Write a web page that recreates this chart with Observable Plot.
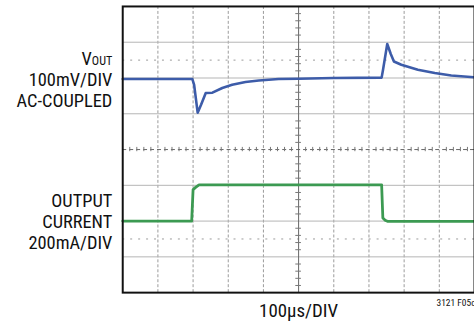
<!DOCTYPE html>
<html><head><meta charset="utf-8">
<script src="https://cdn.jsdelivr.net/npm/d3@7"></script>
<script src="https://cdn.jsdelivr.net/npm/@observablehq/plot@0.6"></script>
<style>
html,body{margin:0;padding:0;background:#fff;overflow:hidden;width:474px;height:326px}
#chart{width:474px;height:326px;overflow:hidden}
</style></head><body><div id="chart"></div>
<script>
// Time base: 100 µs per division, 10 divisions
const voutTime = [0, 198, 203, 213, 223, 236, 255, 283, 311, 349, 387, 443, 500, 599, 736, 740, 752, 762, 771, 792, 839, 887, 934, 1000];
const voutMv   = [0, 0, -16, -94, -71, -39, -38, -25, -16, -8, -4, 0, 1, 3, 4, 26, 98, 70, 49, 40, 26, 17, 10, 5];
const currentTime = [0, 196, 200, 208, 217, 736, 739.5, 746, 754, 1000];
const currentMa   = [0, 0, 176, 190, 203, 203, 17, 5, -2, -2];

const voutLabel = "VOUT\n100mV/DIV\nAC-COUPLED";
const currentLabel = "OUTPUT\nCURRENT\n200mA/DIV";
const timeLabel = "100µs/DIV";
const figureId = "3121 F05c";

const MV_PER_DIV = 100, MA_PER_DIV = 200;
const VOUT_OFFSET = 1.97, CURRENT_OFFSET = -2;

const vout = voutTime.map((t, i) => ({t, v: VOUT_OFFSET + voutMv[i] / MV_PER_DIV}));
const current = currentTime.map((t, i) => ({t, v: CURRENT_OFFSET + currentMa[i] / MA_PER_DIV}));

const gridX = d3.range(100, 1000, 100).filter(d => d !== 500);
const gridY = d3.range(-3, 4, 1).filter(d => d !== 0);
const minorX = d3.range(20, 1000, 20).filter(d => d % 100 !== 0);
const minorY = d3.range(-3.8, 4, 0.2).filter(d => Math.abs(d - Math.round(d)) > 1e-6);

const font = "'Liberation Sans Narrow', 'Roboto Condensed', 'DejaVu Sans Condensed', sans-serif";

const svg = Plot.plot({
  width: 477, height: 326,
  marginLeft: 123, marginRight: 0, marginTop: 6, marginBottom: 32,
  x: {domain: [0, 1000], axis: null},
  y: {domain: [-4, 4], axis: null},
  style: {fontFamily: font, background: "#fff", overflow: "visible"},
  marks: [
    Plot.ruleX(gridX, {stroke: "#9a9a9a", strokeWidth: 1, strokeDasharray: "3,2"}),
    Plot.ruleY(gridY, {stroke: "#b4b4b4", strokeWidth: 1}),
    Plot.ruleY([2.5, -2.5], {stroke: "#9a9a9a", strokeWidth: 1, strokeDasharray: "2,6"}),
    Plot.ruleY([0], {stroke: "#666", strokeWidth: 1, strokeDasharray: "4,3"}),
    Plot.ruleX([500], {stroke: "#666", strokeWidth: 1}),
    Plot.ruleX(minorX, {y1: -0.06, y2: 0.06, stroke: "#777", strokeWidth: 1}),
    Plot.ruleY(minorY, {x1: 492, x2: 508, stroke: "#777", strokeWidth: 1}),
    Plot.line(vout, {x: "t", y: "v", stroke: "#3d5ca9", strokeWidth: 2.6}),
    Plot.line(current, {x: "t", y: "v", stroke: "#3c9a52", strokeWidth: 2.8}),
    Plot.frame({stroke: "#111", strokeWidth: 2}),
    Plot.text([voutLabel], {x: () => 0, y: () => VOUT_OFFSET, text: d => d, textAnchor: "end", dx: -10.5, fontSize: 18.5, lineHeight: 1.15, fill: "#111"}),
    Plot.text([currentLabel], {x: () => 0, y: () => CURRENT_OFFSET, text: d => d, textAnchor: "end", dx: -10.5, fontSize: 18.5, lineHeight: 1.15, fill: "#111"}),
    Plot.text([timeLabel], {x: () => 500, frameAnchor: "bottom", text: d => d, lineAnchor: "bottom", dy: 25, fontSize: 19, fill: "#111"}),
    Plot.text([figureId], {frameAnchor: "bottom-right", text: d => d, textAnchor: "end", lineAnchor: "bottom", dy: 13, dx: 1, fontSize: 9.5, fill: "#111"})
  ]
});

d3.select(svg).selectAll("tspan").filter(function() { return this.textContent === "VOUT"; }).each(function() {
  const t = d3.select(this);
  t.text("V");
  t.append("tspan").attr("font-size", "0.66em").text("OUT");
});

document.getElementById("chart").appendChild(svg);
</script></body></html>
